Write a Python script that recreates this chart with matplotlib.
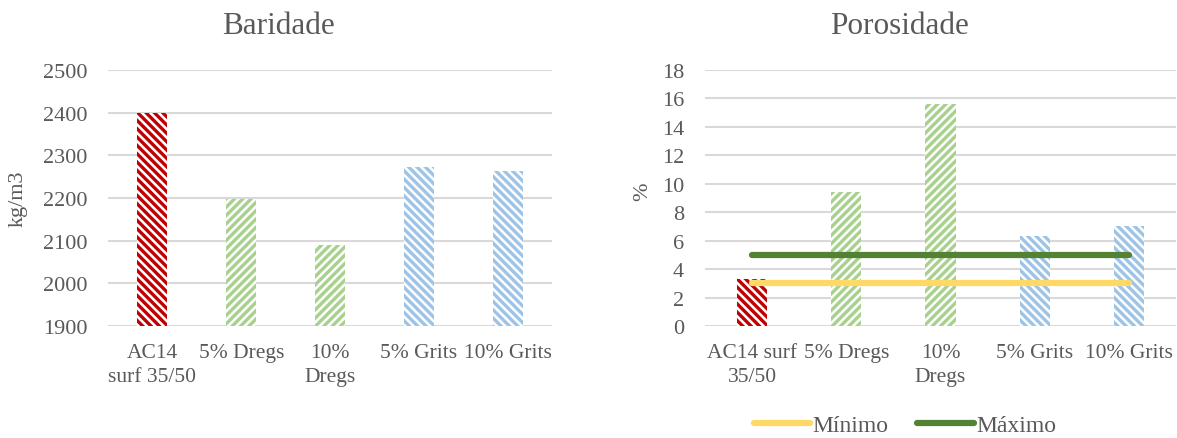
import matplotlib.pyplot as plt
import numpy as np

plt.rcParams['font.family'] = ['Liberation Serif', 'DejaVu Serif']
plt.rcParams['hatch.linewidth'] = 2.4

# Baridade (kg/m3)
bar_labels_left = ['AC14\nsurf 35/50', '5% Dregs', '10%\nDregs', '5% Grits', '10% Grits']
baridade = [2400, 2198, 2090, 2272, 2263]

# Porosidade (%)
bar_labels_right = ['AC14 surf\n35/50', '5% Dregs', '10%\nDregs', '5% Grits', '10% Grits']
porosidade = [3.3, 9.4, 15.6, 6.3, 7.0]
minimo = [3, 3, 3, 3, 3]
maximo = [5, 5, 5, 5, 5]

cores = ['#C00000', '#A9D18E', '#A9D18E', '#9DC3E6', '#9DC3E6']
hatches = ['\\\\\\\\', '////', '////', '\\\\\\\\', '\\\\\\\\']
txt = '#595959'
grid = '#D9D9D9'

fig = plt.figure(figsize=(11.77, 4.39), dpi=100)
ax1 = fig.add_axes([108/1177, 1 - 327/439, 444/1177, 256/439])
ax2 = fig.add_axes([705/1177, 1 - 327/439, 471/1177, 256/439])


def estilo(ax, ticks, labels):
    for s in ax.spines.values():
        s.set_visible(False)
    ax.yaxis.grid(True, color=grid, linewidth=1.5)
    ax.set_axisbelow(True)
    ax.tick_params(length=0, labelsize=16, colors=txt)
    ax.set_xticks(ticks)
    ax.set_xticklabels(labels, fontsize=15.5, color=txt, linespacing=1.35)
    ax.tick_params(axis='y', pad=15)
    ax.tick_params(axis='x', pad=12)


x = np.arange(len(baridade))
for i in range(len(x)):
    ax1.bar(x[i], baridade[i] - 1900, bottom=1900, width=0.34, facecolor='white',
            edgecolor=cores[i], hatch=hatches[i], linewidth=0)
ax1.set_ylim(1900, 2500)
ax1.set_xlim(-0.5, 4.5)
ax1.set_yticks(range(1900, 2501, 100))
estilo(ax1, x, bar_labels_left)
ax1.set_title('Baridade', fontsize=22.5, color=txt, pad=27, x=0.383)
ax1.set_ylabel('kg/m3', fontsize=16, color=txt)
ax1.yaxis.set_label_coords(-0.182, 0.5)

x2 = np.arange(len(porosidade))
for i in range(len(x2)):
    ax2.bar(x2[i], porosidade[i], width=0.32, facecolor='white',
            edgecolor=cores[i], hatch=hatches[i], linewidth=0)
ax2.plot(x2, minimo, color='#FFD966', linewidth=4.5, solid_capstyle='round', label='Mínimo')
ax2.plot(x2, maximo, color='#548235', linewidth=4.5, solid_capstyle='round', label='Máximo')
ax2.set_ylim(0, 18)
ax2.set_xlim(-0.5, 4.5)
ax2.set_yticks(range(0, 19, 2))
estilo(ax2, x2, bar_labels_right)
ax2.set_title('Porosidade', fontsize=22.5, color=txt, pad=27, x=0.414)
ax2.set_ylabel('%', fontsize=16, color=txt)
ax2.yaxis.set_label_coords(-0.113, 0.53)

leg = fig.legend(handles=ax2.get_lines(), loc='center', bbox_to_anchor=(905/1177, 1 - 426/439),
                 ncol=2, frameon=False, fontsize=17, handlelength=2.4, handletextpad=0.1,
                 columnspacing=1.2, borderpad=0)
for t in leg.get_texts():
    t.set_color(txt)

fig.savefig('out.png', dpi=100)
